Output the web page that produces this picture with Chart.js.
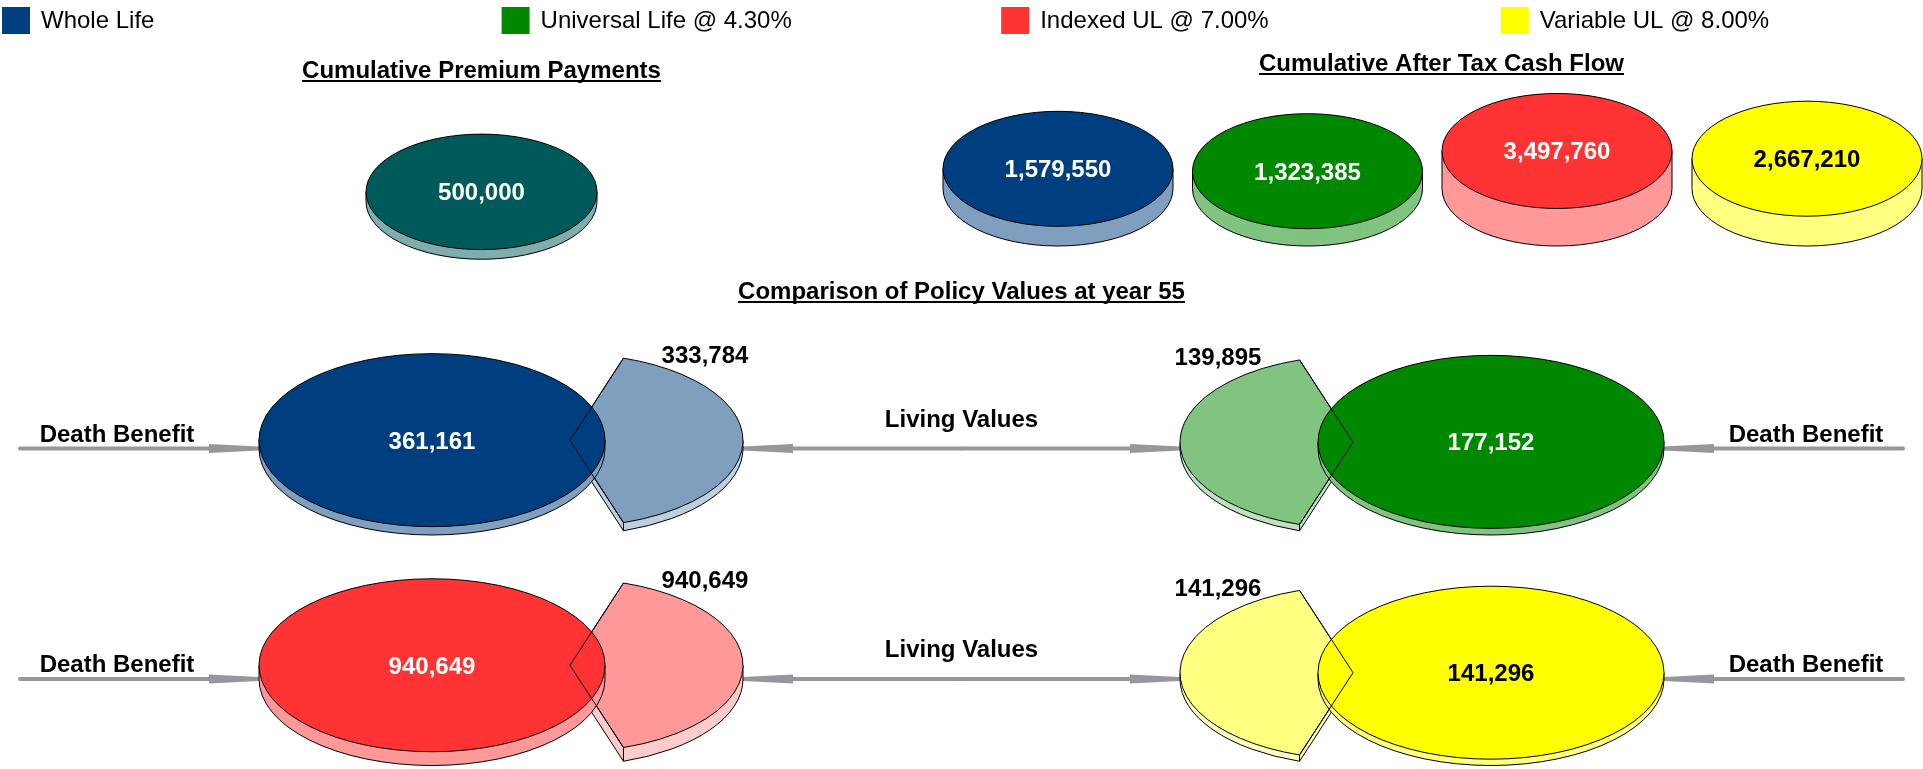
<!DOCTYPE html>
<html>
<head>
<meta charset="utf-8">
<title>Policy comparison</title>
<script src="https://cdn.jsdelivr.net/npm/chart.js@4.4.0/dist/chart.umd.min.js"></script>
<style>
  html, body { margin: 0; padding: 0; background: #fff; }
  #page { position: relative; width: 1923px; height: 769px; overflow: hidden; }
  #page canvas { position: absolute; left: 0; top: 0; }
</style>
</head>
<body>
<div id="page"></div>
<script>
// data
const policies = ['Whole Life', 'Universal Life @ 4.30%', 'Indexed UL @ 7.00%', 'Variable UL @ 8.00%'];
const premiumLabel = ['Cumulative Premium'];
const premiumPaid = [500000];
const afterTaxCashFlow = [1579550, 1323385, 3497760, 2667210];
const deathBenefit = [361161, 177152, 940649, 141296];
const livingValues = [333784, 139895, 940649, 141296];
const valuesYear = 55;

// look
const policyColors = ['#003f7f', '#008800', '#ff3333', '#ffff00'];
const labelInk = ['#fff', '#fff', '#fff', '#000'];
const premiumColor = '#005a5a';
const W = 1923, H = 769;
const TILT = 0.5;          // ellipse height / width
const FONT = '"Liberation Sans", Arial, Helvetica, sans-serif';
const ARROW = '#97979b';

const premiumX = 481.5, premiumFloor = 201.5, premiumR = 115.5;
const cashX = [1058, 1307.5, 1557, 1807], cashFloor = 188.5, cashR = 115, cashTitleX = 1441.5;
const rowFloor = [448.5, 679];
const rowPolicies = [[0, 1], [2, 3]];
const pairX = [432, 1491], bigR = 173, wedgeShift = 138;

Chart.defaults.font.family = FONT;

const fmt = v => v.toLocaleString('en-US');
const depthOf = v => 5 + v * 9.3e-6;   // thickness of the 3d disc grows with the value

function tint(hex, f) {
  const n = parseInt(hex.slice(1), 16);
  const mix = c => Math.round(c + (255 - c) * f);
  return `rgb(${mix(n >> 16)},${mix((n >> 8) & 255)},${mix(n & 255)})`;
}

function isFull(arc) {
  return arc.endAngle - arc.startAngle >= 2 * Math.PI - 1e-6;
}

function slicePath(ctx, arc, dy) {
  ctx.beginPath();
  if (!isFull(arc)) ctx.moveTo(arc.x, arc.y + dy);
  ctx.ellipse(arc.x, arc.y + dy, arc.outerRadius, arc.outerRadius * TILT, 0, arc.startAngle, arc.endAngle);
  ctx.closePath();
}

function pointAt(arc, a, dy) {
  return [arc.x + arc.outerRadius * Math.cos(a), arc.y + dy + arc.outerRadius * TILT * Math.sin(a)];
}

// draws the side wall under the slice, then leaves the context squashed so
// Chart.js paints the top face as an ellipse
const pie3d = {
  id: 'pie3d',
  beforeDatasetsDraw(chart, args, o) {
    const ctx = chart.ctx;
    const arc = chart.getDatasetMeta(0).data[0];
    const d = o.depth;
    ctx.save();
    ctx.fillStyle = o.side;
    for (let k = d; k >= 0; k -= 0.5) { slicePath(ctx, arc, k); ctx.fill(); }

    ctx.strokeStyle = '#000';
    ctx.lineWidth = 1;
    const s = arc.startAngle, e = arc.endAngle;
    const a0 = Math.max(s, 0), a1 = Math.min(e, Math.PI);
    ctx.beginPath();
    if (a1 > a0) ctx.ellipse(arc.x, arc.y + d, arc.outerRadius, arc.outerRadius * TILT, 0, a0, a1);
    const verticals = [];
    [0, Math.PI].forEach(a => { if (isFull(arc) || (a >= s && a <= e)) verticals.push(a); });
    if (!isFull(arc)) {
      [s, e].forEach(a => {
        if (Math.sin(a) > 0) {
          verticals.push(a);
          const [px, py] = pointAt(arc, a, d);
          ctx.moveTo(arc.x, arc.y + d);
          ctx.lineTo(px, py);
        }
      });
    }
    verticals.forEach(a => {
      const [px, py] = pointAt(arc, a, 0);
      ctx.moveTo(px, py);
      ctx.lineTo(px, py + d);
    });
    ctx.stroke();
    ctx.restore();

    ctx.save();
    ctx.translate(arc.x, arc.y);
    ctx.scale(1, TILT);
    ctx.translate(-arc.x, -arc.y);
  },
  afterDatasetsDraw(chart, args, o) {
    const ctx = chart.ctx;
    ctx.restore();
    const arc = chart.getDatasetMeta(0).data[0];
    ctx.save();
    ctx.strokeStyle = '#000';
    ctx.lineWidth = 1;
    slicePath(ctx, arc, 0);
    ctx.stroke();
    // edges of the slice that sits behind this disc stay visible
    if (chart.$behind) {
      const w = chart.$behind.getDatasetMeta(0).data[0];
      ctx.beginPath();
      [w.startAngle, w.endAngle].forEach(a => {
        const [px, py] = pointAt(w, a, 0);
        ctx.moveTo(w.x, w.y);
        ctx.lineTo(px, py);
      });
      ctx.stroke();
    }
    ctx.font = `bold 24px ${FONT}`;
    ctx.textAlign = 'center';
    ctx.textBaseline = 'alphabetic';
    ctx.fillStyle = o.ink;
    ctx.fillText(o.text, arc.x + o.dx, arc.y + o.dy);
    ctx.restore();
  }
};

function title(ctx, text, x, y) {
  ctx.font = `bold 24px ${FONT}`;
  ctx.textAlign = 'center';
  ctx.fillStyle = '#000';
  ctx.fillText(text, x, y);
  const w = ctx.measureText(text).width;
  ctx.fillRect(x - w / 2, y + 2, w, 2);
}

function arrow(ctx, from, tip, y) {
  const base = tip - Math.sign(tip - from) * 50;
  ctx.strokeStyle = ARROW;
  ctx.fillStyle = ARROW;
  ctx.lineWidth = 4;
  ctx.lineCap = 'round';
  ctx.beginPath();
  ctx.moveTo(from, y);
  ctx.lineTo(base, y);
  ctx.stroke();
  ctx.beginPath();
  ctx.moveTo(base, y - 4.5);
  ctx.lineTo(tip, y - 2);
  ctx.lineTo(tip, y + 2);
  ctx.lineTo(base, y + 4.5);
  ctx.closePath();
  ctx.fill();
}

// legend, headings, connectors (drawn on the bottom canvas)
const decor = {
  id: 'decor',
  afterDraw(chart) {
    const ctx = chart.ctx;
    ctx.save();
    ctx.textBaseline = 'alphabetic';
    policies.forEach((name, i) => {
      const x = 2 + 499.6 * i;
      ctx.fillStyle = policyColors[i];
      ctx.fillRect(x, 7, 28, 27);
      ctx.fillStyle = '#000';
      ctx.font = `24px ${FONT}`;
      ctx.textAlign = 'left';
      ctx.fillText(name, x + 39, 28);
    });
    title(ctx, 'Cumulative Premium Payments', premiumX, 78);
    title(ctx, 'Cumulative After Tax Cash Flow', cashTitleX, 71);
    title(ctx, `Comparison of Policy Values at year ${valuesYear}`, W / 2, 299);

    rowFloor.forEach(y => {
      arrow(ctx, 20, pairX[0] - bigR, y);
      arrow(ctx, W / 2, pairX[0] + wedgeShift + bigR, y);
      arrow(ctx, W / 2, pairX[1] - wedgeShift - bigR, y);
      arrow(ctx, W - 20, pairX[1] + bigR, y);
      ctx.font = `bold 24px ${FONT}`;
      ctx.textAlign = 'center';
      ctx.fillStyle = '#000';
      ctx.fillText('Death Benefit', 117, y - 7);
      ctx.fillText('Death Benefit', W - 117, y - 7);
      ctx.fillText('Living Values', W / 2, y - 22);
    });
    ctx.restore();
  }
};

const page = document.getElementById('page');

function placeArc(chart, tx, ty) {
  const arc = chart.getDatasetMeta(0).data[0];
  const a = chart.chartArea;
  const cx = (a.left + a.right) / 2 + tx - arc.x;
  const cy = (a.top + a.bottom) / 2 + ty - arc.y;
  chart.options.layout.padding = {
    left: Math.max(0, 2 * cx - W), right: Math.max(0, W - 2 * cx),
    top: Math.max(0, 2 * cy - H), bottom: Math.max(0, H - 2 * cy)
  };
  chart.update();
}

function disc(name, value, color, o) {
  const canvas = document.createElement('canvas');
  canvas.width = W;
  canvas.height = H;
  page.appendChild(canvas);
  const rotation = o.rotation || 0;
  const circumference = o.circumference || 360;
  const chart = new Chart(canvas, {
    type: 'pie',
    data: {
      labels: [name],
      datasets: [{
        data: [value],
        backgroundColor: color,
        borderWidth: 0,
        radius: o.r,
        rotation,
        circumference
      }]
    },
    options: {
      responsive: false,
      animation: false,
      events: [],
      radius: o.r,
      rotation,
      circumference,
      layout: { padding: 0 },
      plugins: {
        legend: { display: false },
        tooltip: { enabled: false },
        pie3d: {
          depth: depthOf(value),
          side: o.side,
          ink: o.ink,
          text: fmt(value),
          dx: o.dx || 0,
          dy: o.dy
        }
      }
    },
    plugins: o.decor ? [pie3d, decor] : [pie3d]
  });
  if (o.behind) chart.$behind = o.behind;
  placeArc(chart, o.x, o.floor - depthOf(value));
  return chart;
}

disc(premiumLabel[0], premiumPaid[0], premiumColor, {
  x: premiumX, floor: premiumFloor, r: premiumR, side: tint(premiumColor, 0.5),
  ink: '#fff', dy: 8.5, decor: true
});

afterTaxCashFlow.forEach((v, i) => {
  disc(policies[i], v, policyColors[i], {
    x: cashX[i], floor: cashFloor, r: cashR,
    side: tint(policyColors[i], 0.5), ink: labelInk[i], dy: 8.5
  });
});

rowPolicies.forEach((pair, row) => {
  pair.forEach((i, col) => {
    const dir = col === 0 ? 1 : -1;
    const wedge = disc(policies[i] + ' living values', livingValues[i], tint(policyColors[i], 0.5), {
      x: pairX[col] + dir * wedgeShift, floor: rowFloor[row], r: bigR,
      rotation: col === 0 ? 18 : 198, circumference: 144,
      side: tint(policyColors[i], 0.75), ink: '#000', dx: dir * 135, dy: -77
    });
    disc(policies[i] + ' death benefit', deathBenefit[i], policyColors[i], {
      x: pairX[col], floor: rowFloor[row], r: bigR,
      side: tint(policyColors[i], 0.5), ink: labelInk[i], dy: 8.5, behind: wedge
    });
  });
});
</script>
</body>
</html>
